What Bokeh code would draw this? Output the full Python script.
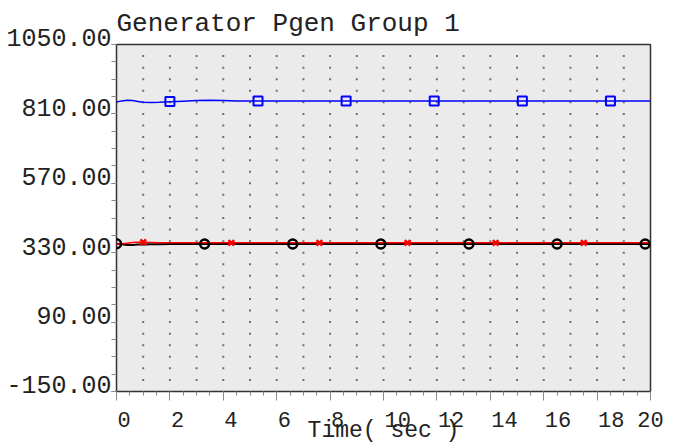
import numpy as np
from bokeh.plotting import figure
from bokeh.models import Range1d, LinearAxis, FixedTicker
from bokeh.embed import file_html
from bokeh.resources import INLINE

# ---------------- data ----------------
title_text = "Generator Pgen Group 1"
x_axis_title = "Time( sec )"

y_ticks = [-150, 90, 330, 570, 810, 1050]
y_tick_labels = ["-150.00", "90.00", "330.00", "570.00", "810.00", "1050.00"]
y_minor = [-150 + 60 * i for i in range(21)]
x_ticks = [0, 2, 4, 6, 8, 10, 12, 14, 16, 18, 20]
x_tick_labels = ["0", "2", "4", "6", "8", "10", "12", "14", "16", "18", "20"]
x_minor = [0.5 * i for i in range(41)]

t = [0.0, 0.2, 0.4, 0.6, 0.8, 1.0, 1.3, 1.6, 2.0, 2.5, 3.0, 3.5, 4.0, 4.5, 5.0,
     6.0, 8.0, 10.0, 12.0, 14.0, 16.0, 18.0, 20.0]
pgen_blue = [851, 855, 857, 856, 853, 850, 849, 850, 852, 854, 856, 857, 856, 855, 855,
             855, 855, 855, 855, 855, 855, 855, 855]
pgen_red = [359, 361, 363, 365, 366, 366, 365, 364, 364, 364, 364, 364, 364, 364, 364,
            364, 364, 364, 364, 364, 364, 364, 364]
pgen_black = [361, 359, 357, 357, 358, 358, 359, 359, 360, 360, 360, 360, 360, 360, 360,
              360, 360, 360, 360, 360, 360, 360, 360]

blue_mark_t = [2.0, 5.3, 8.6, 11.9, 15.2, 18.5]
blue_mark_v = [853, 855, 855, 855, 855, 855]
red_mark_t = [1.0, 4.3, 7.6, 10.9, 14.2, 17.5]
red_mark_v = [366, 364, 364, 364, 364, 364]
black_mark_t = [0.0, 3.3, 6.6, 9.9, 13.2, 16.5, 19.8]
black_mark_v = [361, 360, 360, 360, 360, 360, 360]

# dotted grid positions
grid_x = [float(v) for v in range(1, 20)]
grid_y = [1010 - 40 * k for k in range(29)]

FONT = "Liberation Mono"
TXT = "#222222"
TICK = "#888888"
PX_PER_SEC = 534 / 20.0
CHAR_W = 0.6 * 22

p = figure(width=674, height=446, x_range=Range1d(0, 20), y_range=Range1d(-150, 1050),
           output_backend="svg", toolbar_location=None,
           x_axis_type=None, y_axis_type=None,
           min_border_left=116, min_border_right=24, min_border_top=44, min_border_bottom=54)
p.background_fill_color = "#EBEBEB"
p.border_fill_color = "white"
p.outline_line_color = "#333333"
p.outline_line_width = 1.5

# title
p.title.text = title_text
p.title.align = "left"
p.title.text_font = FONT
p.title.text_font_size = "26px"
p.title.text_font_style = "normal"
p.title.text_color = TXT
p.title.standoff = 11
p.title.offset = 0

# left axis: ticks + labels sitting on top of their tick
yax = LinearAxis(ticker=FixedTicker(ticks=y_ticks, minor_ticks=y_minor))
yax.major_label_overrides = {float(v): s + "\n" for v, s in zip(y_ticks, y_tick_labels)}
yax.major_label_text_font = FONT
yax.major_label_text_font_size = "25px"
yax.major_label_text_color = TXT
yax.major_label_text_line_height = 0.32
yax.major_label_standoff = 0
yax.axis_line_color = None
yax.major_tick_line_color = TICK
yax.minor_tick_line_color = TICK
yax.major_tick_out = 5
yax.major_tick_in = 0
yax.minor_tick_out = 5
yax.minor_tick_in = 0
p.add_layout(yax, "left")

# bottom axis 1: tick marks only (nearest to the frame)
xax = LinearAxis(ticker=FixedTicker(ticks=x_ticks, minor_ticks=x_minor))
xax.major_label_overrides = {float(v): "" for v in x_ticks}
xax.major_label_standoff = 0
xax.axis_line_color = None
xax.major_tick_line_color = TICK
xax.minor_tick_line_color = TICK
xax.major_tick_out = 9
xax.major_tick_in = 0
xax.minor_tick_out = 4
xax.minor_tick_in = 0
p.add_layout(xax, "below")

# bottom axis 2: labels, left-aligned to their tick (last one centred)
label_pos = []
for v, s in zip(x_ticks, x_tick_labels):
    if v == x_ticks[-1]:
        label_pos.append(float(v))
    else:
        label_pos.append(v + (len(s) * CHAR_W / 2 + 1) / PX_PER_SEC)
xlab = LinearAxis(ticker=FixedTicker(ticks=label_pos, minor_ticks=[]))
xlab.major_label_overrides = {pos: s for pos, s in zip(label_pos, x_tick_labels)}
xlab.major_label_text_font = FONT
xlab.major_label_text_font_size = "22px"
xlab.major_label_text_color = TXT
xlab.major_label_standoff = 11
xlab.axis_line_color = None
xlab.major_tick_line_color = None
xlab.minor_tick_line_color = None
xlab.major_tick_out = 0
xlab.major_tick_in = 0
xlab.minor_tick_out = 0
xlab.minor_tick_in = 0
xlab.axis_label = x_axis_title
xlab.axis_label_text_font = FONT
xlab.axis_label_text_font_size = "23px"
xlab.axis_label_text_font_style = "normal"
xlab.axis_label_text_color = TXT
xlab.axis_label_standoff = -12
p.add_layout(xlab, "below")

# dotted grid
gx, gy = np.meshgrid(grid_x, grid_y)
p.scatter(gx.ravel(), gy.ravel(), marker="square", size=2, fill_color="#707070",
          line_color=None)

# series
p.line(t, pgen_black, line_color="black", line_width=2)
p.line(t, pgen_red, line_color="#FF0000", line_width=1.5)
p.line(t, pgen_blue, line_color="#0000FF", line_width=1.5)

p.scatter(black_mark_t, black_mark_v, marker="circle", size=9, fill_color=None,
          line_color="black", line_width=2.5)
p.scatter(red_mark_t, red_mark_v, marker="x", size=8, line_color="#FF0000", line_width=2.5)
p.scatter(blue_mark_t, blue_mark_v, marker="square", size=9, fill_color=None,
          line_color="#0000FF", line_width=2)

open("out.html", "w").write(file_html(p, INLINE))
